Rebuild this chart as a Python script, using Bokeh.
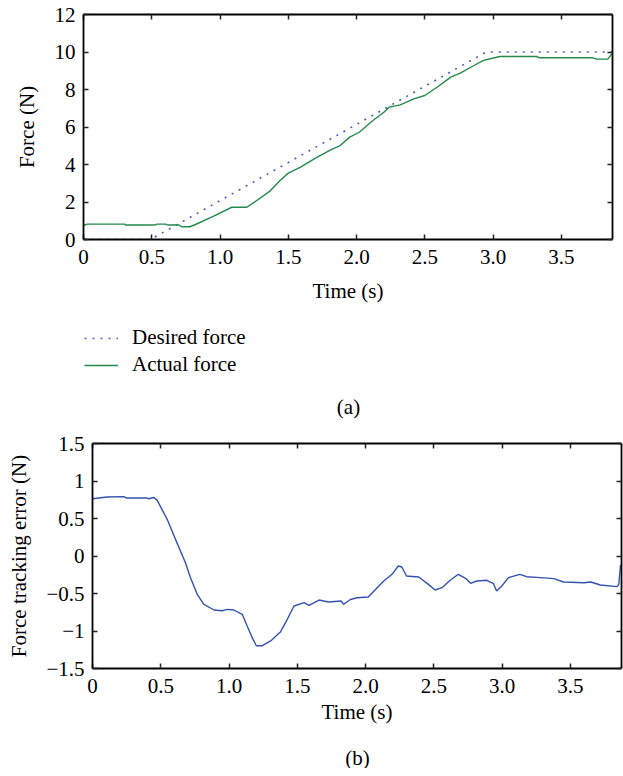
from bokeh.plotting import figure
from bokeh.layouts import column
from bokeh.models import (Legend, LegendItem, Label, LinearAxis, FixedTicker, Range1d)
from bokeh.embed import file_html
from bokeh.resources import INLINE

# ---------------- data ----------------
t_desired = [0.0, 0.49, 2.95, 3.875]
f_desired = [0.0, 0.0, 10.0, 10.0]

t_actual = [0, 0.03, 0.30, 0.31, 0.52, 0.54, 0.60, 0.62, 0.70, 0.72, 0.78, 0.82, 0.95,
            1.086, 1.196, 1.27, 1.37, 1.44, 1.50, 1.59, 1.69, 1.81, 1.88, 1.95, 2.02,
            2.12, 2.20, 2.24, 2.32, 2.42, 2.50, 2.59, 2.69, 2.76, 2.86, 2.93, 3.05,
            3.32, 3.34, 3.73, 3.76, 3.84, 3.87]
f_actual = [0.76, 0.82, 0.82, 0.77, 0.77, 0.82, 0.82, 0.77, 0.77, 0.68, 0.68, 0.80, 1.23,
            1.72, 1.72, 2.08, 2.61, 3.15, 3.54, 3.86, 4.30, 4.78, 5.01, 5.46, 5.72,
            6.35, 6.79, 7.06, 7.18, 7.50, 7.68, 8.12, 8.66, 8.87, 9.28, 9.55, 9.76,
            9.76, 9.69, 9.69, 9.62, 9.62, 9.90]

t_error = [0, 0.107, 0.23, 0.25, 0.40, 0.41, 0.45, 0.474, 0.547, 0.608, 0.681, 0.718,
           0.767, 0.816, 0.89, 0.95, 0.986, 1.035, 1.097, 1.133, 1.17, 1.2, 1.244, 1.305,
           1.378, 1.427, 1.476, 1.55, 1.586, 1.659, 1.73, 1.82, 1.84, 1.889, 1.938, 2.02,
           2.133, 2.194, 2.24, 2.266, 2.30, 2.39, 2.46, 2.51, 2.56, 2.62, 2.68, 2.733,
           2.77, 2.815, 2.888, 2.937, 2.96, 2.998, 3.047, 3.13, 3.18, 3.28, 3.38, 3.45,
           3.6, 3.65, 3.72, 3.84, 3.855, 3.868]
e_error = [0.764, 0.787, 0.791, 0.773, 0.773, 0.764, 0.78, 0.742, 0.489, 0.222, -0.089,
           -0.289, -0.511, -0.644, -0.72, -0.73, -0.711, -0.72, -0.778, -0.933, -1.089,
           -1.196, -1.196, -1.133, -1.009, -0.844, -0.667, -0.622, -0.658, -0.587, -0.613,
           -0.6, -0.644, -0.58, -0.556, -0.547, -0.333, -0.244, -0.133, -0.147, -0.267,
           -0.28, -0.378, -0.453, -0.422, -0.324, -0.244, -0.298, -0.364, -0.333, -0.324,
           -0.369, -0.467, -0.4, -0.289, -0.244, -0.276, -0.289, -0.302, -0.347, -0.356,
           -0.347, -0.387, -0.409, -0.38, -0.12]

x_ticks = [0, 0.5, 1.0, 1.5, 2.0, 2.5, 3.0, 3.5]
x_tick_labels = ["0", "0.5", "1.0", "1.5", "2.0", "2.5", "3.0", "3.5"]
y1_ticks = [0, 2, 4, 6, 8, 10, 12]
y1_tick_labels = ["0", "2", "4", "6", "8", "10", "12"]
y2_ticks = [-1.5, -1, -0.5, 0, 0.5, 1, 1.5]
y2_tick_labels = ["\u22121.5", "\u22121", "\u22120.5", "0", "0.5", "1", "1.5"]
legend_labels = ["Desired force", "Actual force"]

FONT = "Liberation Serif"
FS = "21px"
GREEN = "#238a4c"
BLUE_DOT = "#4a5cc4"
BLUE = "#3352b0"
NAN = float("nan")
W = 623


def style_axis(ax, ticks, labels=None, show_labels=True):
    ax.ticker = FixedTicker(ticks=ticks)
    if show_labels:
        ax.major_label_overrides = {k: v for k, v in zip(ticks, labels)}
        ax.major_label_text_font_size = FS
    else:
        ax.major_label_overrides = {k: "" for k in ticks}
        ax.major_label_text_font_size = "8px"
        ax.major_label_standoff = 0
    ax.minor_tick_line_color = None
    ax.major_tick_in = 5
    ax.major_tick_out = 0
    ax.major_tick_line_color = "#222222"
    ax.major_tick_line_width = 1.5
    ax.axis_line_color = "black"
    ax.axis_line_width = 1.8
    ax.major_label_text_font = FONT
    ax.major_label_text_color = "black"
    ax.axis_label_text_font = FONT
    ax.axis_label_text_font_style = "normal"
    ax.axis_label_text_color = "black"
    ax.axis_label_text_font_size = FS


def make_fig(height, x_range, y_range, left, right, top, bottom):
    p = figure(width=W, height=height, x_range=x_range, y_range=y_range,
               output_backend="svg", toolbar_location=None, frame_align=False,
               min_border_left=left, min_border_right=right,
               min_border_top=top, min_border_bottom=bottom)
    p.grid.grid_line_color = None
    p.outline_line_color = None
    p.background_fill_color = "white"
    p.border_fill_color = "white"
    return p


def make_blank(height):
    p = figure(width=W, height=height, x_range=Range1d(0, 1), y_range=Range1d(0, 1),
               output_backend="svg", toolbar_location=None, frame_align=False,
               x_axis_type=None, y_axis_type=None,
               min_border_left=0, min_border_right=0,
               min_border_top=0, min_border_bottom=0)
    p.grid.grid_line_color = None
    p.outline_line_color = None
    return p


def caption(p, text, x, y):
    p.add_layout(Label(x=x, y=y, x_units="screen", y_units="screen", text=text,
                       text_align="center", text_baseline="middle", text_font=FONT,
                       text_font_size=FS, text_color="black"))


# ---------------- top plot (a) ----------------
p1 = make_fig(312, Range1d(0, 3.875), Range1d(0, 12), 83, 11, 14, 73)
p1.line(t_desired, f_desired, line_color=BLUE_DOT, line_width=1.6, line_dash="2 6")
p1.line(t_actual, f_actual, line_color=GREEN, line_width=1.4)

style_axis(p1.xaxis[0], x_ticks, x_tick_labels)
style_axis(p1.yaxis[0], y1_ticks, y1_tick_labels)
p1.xaxis[0].axis_label = "Time (s)"
p1.yaxis[0].axis_label = "Force (N)"
p1.xaxis[0].major_label_standoff = 10
p1.xaxis[0].axis_label_standoff = 12
p1.yaxis[0].major_label_standoff = 8
p1.yaxis[0].axis_label_standoff = 13
ax_r1 = LinearAxis()
ax_t1 = LinearAxis()
style_axis(ax_r1, y1_ticks, show_labels=False)
style_axis(ax_t1, x_ticks, show_labels=False)
p1.add_layout(ax_r1, "right")
p1.add_layout(ax_t1, "above")

# ---------------- legend + caption (a) ----------------
pm = make_blank(116)
r_des_key = pm.line([NAN], [NAN], line_color=BLUE_DOT, line_width=1.6, line_dash="2 6")
r_act_key = pm.line([NAN], [NAN], line_color=GREEN, line_width=1.4)
legend = Legend(items=[LegendItem(label=legend_labels[0], renderers=[r_des_key]),
                       LegendItem(label=legend_labels[1], renderers=[r_act_key])],
                location=(84, 51), orientation="vertical",
                glyph_width=34, glyph_height=20, label_height=20, spacing=2,
                label_standoff=14, padding=0, margin=0,
                border_line_color=None, background_fill_alpha=0,
                label_text_font=FONT, label_text_font_size=FS, label_text_color="black")
pm.add_layout(legend, "center")
caption(pm, "(a)", 348, 22)

# ---------------- bottom plot (b) ----------------
p2 = make_fig(310, Range1d(0, 3.875), Range1d(-1.5, 1.5), 92, 2, 15, 70)
p2.line(t_error, e_error, line_color=BLUE, line_width=1.4)

style_axis(p2.xaxis[0], x_ticks, x_tick_labels)
style_axis(p2.yaxis[0], y2_ticks, y2_tick_labels)
p2.xaxis[0].axis_label = "Time (s)"
p2.yaxis[0].axis_label = "Force tracking error (N)"
p2.xaxis[0].major_label_standoff = 10
p2.xaxis[0].axis_label_standoff = 4
p2.yaxis[0].major_label_standoff = 8
p2.yaxis[0].axis_label_standoff = 12
ax_r2 = LinearAxis()
ax_t2 = LinearAxis()
style_axis(ax_r2, y2_ticks, show_labels=False)
style_axis(ax_t2, x_ticks, show_labels=False)
p2.add_layout(ax_r2, "right")
p2.add_layout(ax_t2, "above")

# ---------------- caption (b) ----------------
pc = make_blank(30)
caption(pc, "(b)", 357, 11)

layout = column(p1, pm, p2, pc, spacing=0)
open("out.html", "w").write(file_html(layout, INLINE))
